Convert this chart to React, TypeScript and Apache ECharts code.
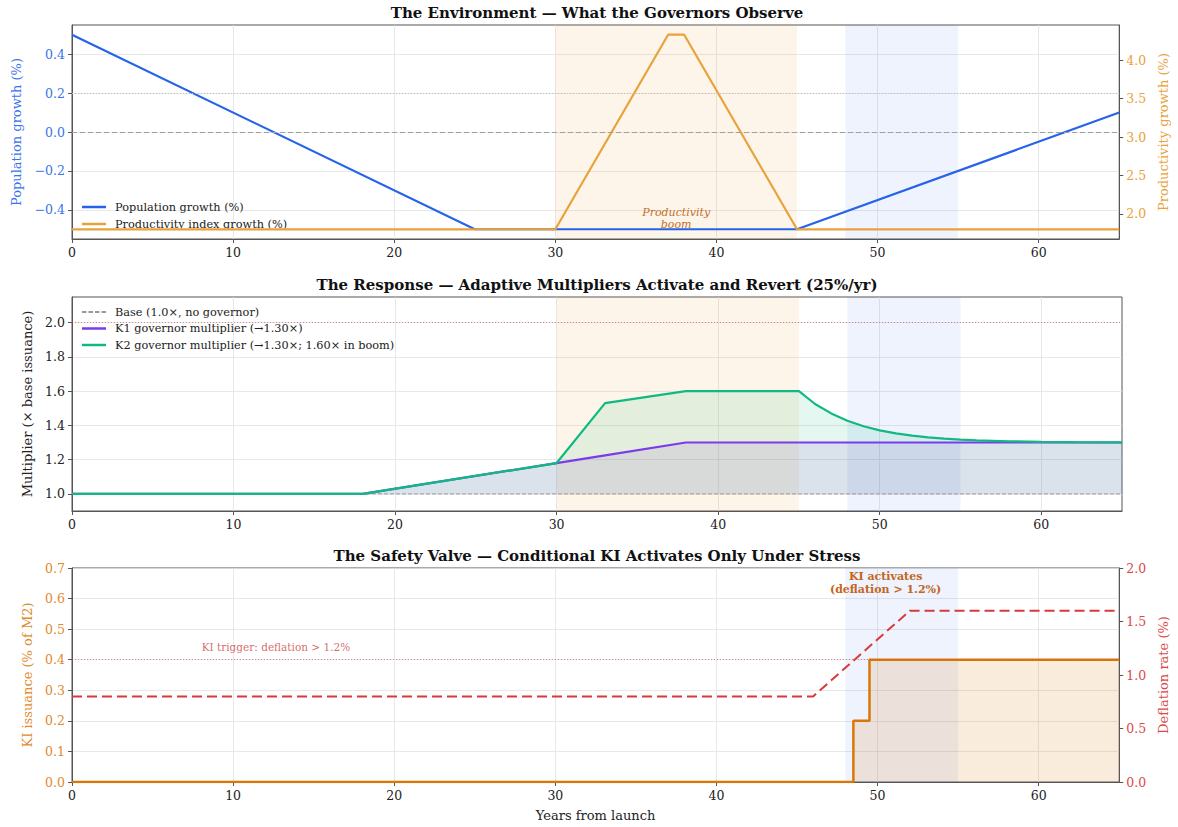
import React, { useEffect, useRef } from 'react';
import * as echarts from 'echarts';

// ---------- shared ----------
const X_TICKS = [0, 10, 20, 30, 40, 50, 60];
const BOOM_RANGE = [30, 45];
const STRESS_RANGE = [48, 55];

// ---------- panel 1: environment ----------
const POP_YEARS = [0, 25, 45, 65];
const POP_VALUES = [0.5, -0.5, -0.5, 0.1];
const PROD_YEARS = [0, 30, 37, 38, 45, 65];
const PROD_VALUES = [1.8, 1.8, 4.33, 4.33, 1.8, 1.8];
const POP_TICKS = [-0.4, -0.2, 0, 0.2, 0.4];
const PROD_TICKS = [2.0, 2.5, 3.0, 3.5, 4.0];
const POP_ZERO = 0;
const POP_REF = 0.2;

// ---------- panel 2: multipliers ----------
const MULT_YEARS = [0, 18, 30, 33, 38, 45, 46, 47, 48, 49, 50, 51, 52, 53, 54, 55, 56, 57, 58, 60, 62, 65];
const BASE_ALONG = [1.0, 1.0, 1.0, 1.0, 1.0, 1.0, 1.0, 1.0, 1.0, 1.0, 1.0, 1.0, 1.0, 1.0, 1.0, 1.0, 1.0, 1.0, 1.0, 1.0, 1.0, 1.0];
const K1_VALUES = [1.0, 1.0, 1.18, 1.225, 1.3, 1.3, 1.3, 1.3, 1.3, 1.3, 1.3, 1.3, 1.3, 1.3, 1.3, 1.3, 1.3, 1.3, 1.3, 1.3, 1.3, 1.3];
const K2_VALUES = [1.0, 1.0, 1.18, 1.53, 1.6, 1.6, 1.525, 1.47, 1.427, 1.395, 1.371, 1.353, 1.34, 1.33, 1.323, 1.317, 1.313, 1.31, 1.307, 1.304, 1.302, 1.301];
const BASE_YEARS = [0, 65];
const BASE_VALUES = [1.0, 1.0];
const MULT_TICKS = [1.0, 1.2, 1.4, 1.6, 1.8, 2.0];
const MULT_CAP = 2.0;

// ---------- panel 3: safety valve ----------
const KI_YEARS = [0, 48, 49, 50, 65];
const KI_VALUES = [0, 0, 0.2, 0.4, 0.4];
const DEFL_YEARS = [0, 46, 52, 65];
const DEFL_VALUES = [0.8, 0.8, 1.6, 1.6];
const KI_TICKS = [0, 0.1, 0.2, 0.3, 0.4, 0.5, 0.6, 0.7];
const DEFL_TICKS = [0, 0.5, 1.0, 1.5, 2.0];
const KI_TRIGGER_LEVEL = 0.4;

const FONT = '"DejaVu Serif", "Liberation Serif", serif';
const C_POP = '#2563eb';
const C_PROD = '#e9a23b';
const C_K1 = '#7c3aed';
const C_K2 = '#10b981';
const C_KI = '#d97706';
const C_DEFL = '#d63a3a';
const C_SPINE = '#555555';
const C_GRID = '#e2e2e2';

const zip = (xs: number[], ys: number[]) => xs.map((x, i) => [x, ys[i]]);
const minus = (v: number, d = 1) => (v < 0 ? '\u2212' + Math.abs(v).toFixed(d) : v.toFixed(d));

const GRID_TOPS = [25, 297, 568];
const GRID_H = 214;

function xAxisFor(i: number, withName: boolean) {
  return {
    type: 'value',
    gridIndex: i,
    min: 0,
    max: 65,
    name: withName ? 'Years from launch' : '',
    nameLocation: 'middle',
    nameGap: 27,
    nameTextStyle: { fontFamily: FONT, fontSize: 13, color: '#222' },
    axisLine: { show: true, onZero: false, lineStyle: { color: C_SPINE, width: 1 } },
    axisTick: { show: true, length: 4, lineStyle: { color: C_SPINE }, customValues: X_TICKS },
    axisLabel: { customValues: X_TICKS, fontFamily: FONT, fontSize: 12.5, color: '#222', margin: 7 },
    splitLine: { show: true, lineStyle: { color: C_GRID, width: 0.8 } },
  };
}

function yAxisFor(opts: any) {
  const { grid, min, max, ticks, color, name, nameGap, position, split, fmt, labelColor } = opts;
  return {
    type: 'value',
    gridIndex: grid,
    min,
    max,
    position,
    name,
    nameLocation: 'middle',
    nameGap,
    nameTextStyle: { fontFamily: FONT, fontSize: 13, color },
    axisLine: { show: true, onZero: false, lineStyle: { color: C_SPINE, width: 1 } },
    axisTick: { show: true, length: 4, lineStyle: { color: C_SPINE }, customValues: ticks },
    axisLabel: {
      customValues: ticks,
      fontFamily: FONT,
      fontSize: 12.5,
      color: labelColor || color,
      margin: 7,
      formatter: fmt,
    },
    splitLine: { show: split, lineStyle: { color: C_GRID, width: 0.8 } },
  };
}

const shade = (range: number[], color: string) => [
  { xAxis: range[0], itemStyle: { color } },
  { xAxis: range[1] },
];

const DASH_ICON = 'path://M0,0h4.5v2h-4.5zM6.5,0h4.5v2h-4.5zM13,0h4.5v2h-4.5zM19.5,0h4.5v2h-4.5z';

function bandSeries(xs: number[], upper: number[], lower: number[], color: string) {
  return {
    type: 'custom',
    xAxisIndex: 1,
    yAxisIndex: 2,
    z: 2,
    silent: true,
    data: [[xs[0], lower[0]]],
    renderItem: (_params: any, api: any) => {
      const pts: number[][] = xs.map((x, i) => api.coord([x, upper[i]]));
      for (let i = xs.length - 1; i >= 0; i--) pts.push(api.coord([xs[i], lower[i]]));
      return { type: 'polygon', shape: { points: pts }, style: { fill: color } };
    },
  };
}

export default function App() {
  const ref = useRef<HTMLDivElement>(null);

  useEffect(() => {
    if (!ref.current) return;
    const chart = echarts.init(ref.current, undefined, { renderer: 'svg' });

    const boomColor = 'rgba(233,162,59,0.11)';
    const stressColor = 'rgba(37,99,235,0.08)';

    const legendCommon = {
      left: 82,
      orient: 'vertical',
      padding: 0,
      itemGap: 4,
      itemWidth: 24,
      itemHeight: 2.5,
      icon: 'rect',
      textStyle: { fontFamily: FONT, fontSize: 11.3, lineHeight: 13, color: '#222', padding: [0, 0, 0, 4] },
    };

    const titleStyle = { align: 'center', verticalAlign: 'middle', fontFamily: FONT, fontSize: 15, fontWeight: 'bold', fill: '#111' };

    const option: any = {
      animation: false,
      textStyle: { fontFamily: FONT },
      grid: GRID_TOPS.map((t) => ({
        left: 72,
        right: 56,
        top: t,
        height: GRID_H,
        show: true,
        borderColor: C_SPINE,
        borderWidth: 1,
        backgroundColor: 'transparent',
      })),
      xAxis: [xAxisFor(0, false), xAxisFor(1, false), xAxisFor(2, true)],
      yAxis: [
        yAxisFor({ grid: 0, min: -0.55, max: 0.55, ticks: POP_TICKS, color: '#3a74ec', name: 'Population growth (%)', nameGap: 49, position: 'left', split: true, fmt: (v: number) => minus(v) }),
        yAxisFor({ grid: 0, min: 1.674, max: 4.456, ticks: PROD_TICKS, color: '#e9a23b', name: 'Productivity growth (%)', nameGap: 35, position: 'right', split: false, fmt: (v: number) => v.toFixed(1) }),
        yAxisFor({ grid: 1, min: 0.9, max: 2.15, ticks: MULT_TICKS, color: '#222', name: 'Multiplier (\u00d7 base issuance)', nameGap: 37, position: 'left', split: true, fmt: (v: number) => v.toFixed(1) }),
        yAxisFor({ grid: 2, min: 0, max: 0.7, ticks: KI_TICKS, color: '#df8a2c', name: 'KI issuance (% of M2)', nameGap: 37, position: 'left', split: true, fmt: (v: number) => v.toFixed(1) }),
        yAxisFor({ grid: 2, min: 0, max: 2.0, ticks: DEFL_TICKS, color: '#d94a4a', name: 'Deflation rate (%)', nameGap: 35, position: 'right', split: false, fmt: (v: number) => v.toFixed(1) }),
      ],
      legend: [
        {
          ...legendCommon,
          top: 200.5,
          data: ['Population growth (%)', 'Productivity index growth (%)'],
        },
        {
          ...legendCommon,
          top: 305.5,
          itemGap: 3.5,
          data: [
            { name: 'Base (1.0\u00d7, no governor)', icon: DASH_ICON },
            'K1 governor multiplier (\u21921.30\u00d7)',
            'K2 governor multiplier (\u21921.30\u00d7; 1.60\u00d7 in boom)',
          ],
        },
      ],
      graphic: [
        { type: 'text', x: 597, y: 13, style: { ...titleStyle, text: 'The Environment \u2014 What the Governors Observe' } },
        { type: 'text', x: 597, y: 285, style: { ...titleStyle, text: 'The Response \u2014 Adaptive Multipliers Activate and Revert (25%/yr)' } },
        { type: 'text', x: 597, y: 556, style: { ...titleStyle, text: 'The Safety Valve \u2014 Conditional KI Activates Only Under Stress' } },
      ],
      series: [
        // ---- panel 1 ----
        {
          type: 'line', xAxisIndex: 0, yAxisIndex: 0, data: [], z: 1, silent: true,
          markArea: { silent: true, data: [shade(BOOM_RANGE, boomColor), shade(STRESS_RANGE, stressColor)] },
        },
        {
          type: 'line', xAxisIndex: 0, yAxisIndex: 0, data: [], z: 2, silent: true,
          markLine: {
            silent: true, symbol: 'none', label: { show: false },
            lineStyle: { color: '#a0a0a0', type: [5, 3], width: 1 },
            data: [{ yAxis: POP_ZERO }],
          },
        },
        {
          type: 'line', xAxisIndex: 0, yAxisIndex: 0, data: [], z: 2, silent: true,
          markLine: {
            silent: true, symbol: 'none', label: { show: false },
            lineStyle: { color: '#bdbdbd', type: [1, 2], width: 1 },
            data: [{ yAxis: POP_REF }],
          },
        },
        {
          name: 'Population growth (%)', type: 'line', xAxisIndex: 0, yAxisIndex: 0, z: 3,
          data: zip(POP_YEARS, POP_VALUES), symbol: 'none',
          lineStyle: { color: C_POP, width: 2.2 }, itemStyle: { color: C_POP },
          markPoint: {
            silent: true, symbol: 'circle', symbolSize: 0,
            data: [{ coord: [37.5, -0.443], value: 0 }],
            label: { show: true, position: 'inside', formatter: 'Productivity\nboom', fontFamily: FONT, fontSize: 11, fontStyle: 'italic', color: '#c46f2a', lineHeight: 12 },
          },
        },
        {
          name: 'Productivity index growth (%)', type: 'line', xAxisIndex: 0, yAxisIndex: 1, z: 4,
          data: zip(PROD_YEARS, PROD_VALUES), symbol: 'none',
          lineStyle: { color: C_PROD, width: 2.2 }, itemStyle: { color: C_PROD },
        },
        // ---- panel 2 ----
        {
          type: 'line', xAxisIndex: 1, yAxisIndex: 2, data: [], z: 1, silent: true,
          markArea: { silent: true, data: [shade(BOOM_RANGE, boomColor), shade(STRESS_RANGE, stressColor)] },
          markLine: {
            silent: true, symbol: 'none', label: { show: false },
            lineStyle: { color: 'rgba(214,70,70,0.6)', type: [1, 2], width: 1 },
            data: [{ yAxis: MULT_CAP }],
          },
        },
        bandSeries(MULT_YEARS, K1_VALUES, BASE_ALONG, 'rgba(70,110,160,0.2)'),
        bandSeries(MULT_YEARS, K2_VALUES, K1_VALUES, 'rgba(16,185,129,0.11)'),
        {
          name: 'Base (1.0\u00d7, no governor)', type: 'line', xAxisIndex: 1, yAxisIndex: 2, z: 3,
          data: zip(BASE_YEARS, BASE_VALUES), symbol: 'none',
          lineStyle: { color: '#9a9a9a', width: 1, type: [4, 2] }, itemStyle: { color: '#9a9a9a' },
        },
        {
          name: 'K1 governor multiplier (\u21921.30\u00d7)', type: 'line', xAxisIndex: 1, yAxisIndex: 2, z: 4,
          data: zip(MULT_YEARS, K1_VALUES), symbol: 'none',
          lineStyle: { color: C_K1, width: 2.2 }, itemStyle: { color: C_K1 },
        },
        {
          name: 'K2 governor multiplier (\u21921.30\u00d7; 1.60\u00d7 in boom)', type: 'line', xAxisIndex: 1, yAxisIndex: 2, z: 5,
          data: zip(MULT_YEARS, K2_VALUES), symbol: 'none',
          lineStyle: { color: C_K2, width: 2.2 }, itemStyle: { color: C_K2 },
        },
        // ---- panel 3 ----
        {
          type: 'line', xAxisIndex: 2, yAxisIndex: 3, data: [], z: 1, silent: true,
          markArea: { silent: true, data: [shade(STRESS_RANGE, stressColor)] },
          markLine: {
            silent: true, symbol: 'none', label: { show: false },
            lineStyle: { color: 'rgba(214,70,70,0.6)', type: [1, 2], width: 1 },
            data: [{ yAxis: KI_TRIGGER_LEVEL }],
          },
        },
        {
          name: 'KI issuance', type: 'line', xAxisIndex: 2, yAxisIndex: 3, z: 4, step: 'middle',
          data: zip(KI_YEARS, KI_VALUES), symbol: 'none',
          lineStyle: { color: C_KI, width: 2.5 }, itemStyle: { color: C_KI },
          areaStyle: { color: 'rgba(217,119,6,0.2)' },
          markPoint: {
            silent: true, symbol: 'circle', symbolSize: 0,
            data: [
              { coord: [50.5, 0.65], value: 0, label: { show: true, position: 'inside', formatter: 'KI activates\n(deflation > 1.2%)', fontFamily: FONT, fontSize: 11, fontWeight: 'bold', color: '#c4651c', lineHeight: 13 } },
              { coord: [8.05, 0.4426], value: 0, label: { show: true, position: 'right', distance: 0, formatter: 'KI trigger: deflation > 1.2%', fontFamily: FONT, fontSize: 10.5, color: 'rgba(205,70,70,0.8)' } },
            ],
          },
        },
        {
          name: 'Deflation rate', type: 'line', xAxisIndex: 2, yAxisIndex: 4, z: 3,
          data: zip(DEFL_YEARS, DEFL_VALUES), symbol: 'none',
          lineStyle: { color: C_DEFL, width: 2, type: [10, 5] }, itemStyle: { color: C_DEFL },
        },
      ],
    };

    chart.setOption(option);
    return () => chart.dispose();
  }, []);

  return <div ref={ref} style={{ position: 'absolute', left: 0, top: 0, width: 1178, height: 827, background: '#fff' }} />;
}
